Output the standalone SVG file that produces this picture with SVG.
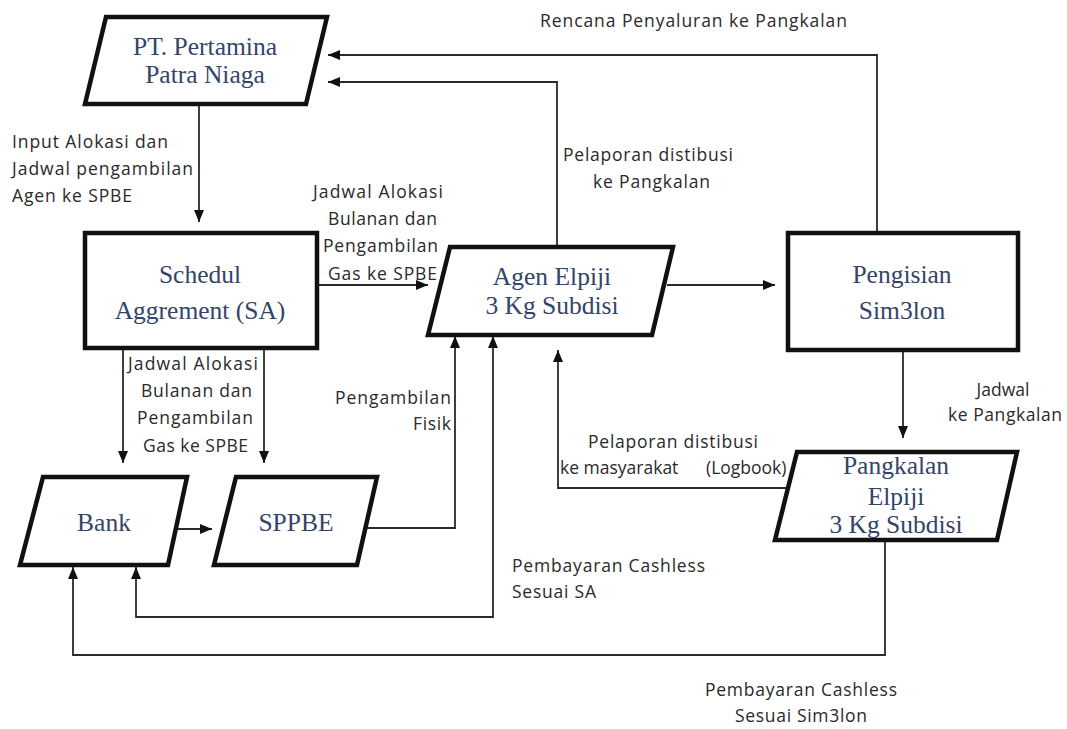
<svg xmlns="http://www.w3.org/2000/svg" width="1067" height="729" viewBox="0 0 1067 729">
<style>
.node{fill:#ffffff;stroke:#111;stroke-width:4.5;stroke-linejoin:miter}
.nt{font-family:"Liberation Serif","Times New Roman",serif;font-size:25.5px;fill:#33446b;text-anchor:middle}
.lb{font-family:"Open Sans",Lato,"Liberation Sans",sans-serif;font-size:17.5px;fill:#2a2a2a}
.c{fill:none;stroke:#2a2a2a;stroke-width:1.8}
</style>
<defs>
<marker id="ah" viewBox="0 0 12 10" refX="12" refY="5" markerWidth="12" markerHeight="10" markerUnits="userSpaceOnUse" orient="auto-start-reverse">
<path d="M0,0 L12,5 L0,10 Z" fill="#111"/>
</marker>
</defs>
<rect width="1067" height="729" fill="#ffffff"/>

<g id="connectors">
<path class="c" d="M199,104 V222" marker-end="url(#ah)"/>
<path class="c" d="M317,285 H428" marker-end="url(#ah)"/>
<path class="c" d="M667,285 H775" marker-end="url(#ah)"/>
<path class="c" d="M877,233 V55 H328" marker-end="url(#ah)"/>
<path class="c" d="M557,247 V82 H328" marker-end="url(#ah)"/>
<path class="c" d="M903,350 V438" marker-end="url(#ah)"/>
<path class="c" d="M788,488 H558 V350" marker-end="url(#ah)"/>
<path class="c" d="M123,348 V463" marker-end="url(#ah)"/>
<path class="c" d="M264,348 V463" marker-end="url(#ah)"/>
<path class="c" d="M176,529 H212" marker-end="url(#ah)"/>
<path class="c" d="M366,528 H455 V336" marker-end="url(#ah)"/>
<path class="c" d="M493,336 V617 H136 V567" marker-start="url(#ah)" marker-end="url(#ah)"/>
<path class="c" d="M885,540 V655 H73 V567" marker-end="url(#ah)"/>
</g>

<g id="labels">
<text class="lb" x="12" y="148" textLength="156" lengthAdjust="spacing">Input Alokasi dan</text>
<text class="lb" x="12" y="175" textLength="181" lengthAdjust="spacing">Jadwal pengambilan</text>
<text class="lb" x="12" y="202" textLength="120" lengthAdjust="spacing">Agen ke SPBE</text>

<text class="lb" x="540" y="27" textLength="307" lengthAdjust="spacing">Rencana Penyaluran ke Pangkalan</text>

<text class="lb" x="563" y="161" textLength="170" lengthAdjust="spacing">Pelaporan distibusi</text>
<text class="lb" x="593" y="188" textLength="117" lengthAdjust="spacing">ke Pangkalan</text>

<text class="lb" x="313" y="198" textLength="130" lengthAdjust="spacing">Jadwal Alokasi</text>
<text class="lb" x="328" y="225" textLength="109" lengthAdjust="spacing">Bulanan dan</text>
<text class="lb" x="323" y="252" textLength="115" lengthAdjust="spacing">Pengambilan</text>
<text class="lb" x="328" y="280" textLength="109" lengthAdjust="spacing">Gas ke SPBE</text>

<text class="lb" x="128" y="370" textLength="130" lengthAdjust="spacing">Jadwal Alokasi</text>
<text class="lb" x="141" y="397" textLength="111" lengthAdjust="spacing">Bulanan dan</text>
<text class="lb" x="137" y="424" textLength="116" lengthAdjust="spacing">Pengambilan</text>
<text class="lb" x="143" y="452" textLength="105" lengthAdjust="spacing">Gas ke SPBE</text>

<text class="lb" x="335" y="404" textLength="116" lengthAdjust="spacing">Pengambilan</text>
<text class="lb" x="413" y="430" textLength="38" lengthAdjust="spacing">Fisik</text>

<text class="lb" x="588" y="448" textLength="170" lengthAdjust="spacing">Pelaporan distibusi</text>
<text class="lb" y="474"><tspan x="560">ke masyarakat</tspan><tspan x="706">(Logbook)</tspan></text>

<text class="lb" x="1003" y="396" text-anchor="middle">Jadwal</text>
<text class="lb" x="948" y="421" textLength="114" lengthAdjust="spacing">ke Pangkalan</text>

<text class="lb" x="512" y="572" textLength="193" lengthAdjust="spacing">Pembayaran Cashless</text>
<text class="lb" x="512" y="598" textLength="84" lengthAdjust="spacing">Sesuai SA</text>

<text class="lb" x="705" y="696" textLength="192" lengthAdjust="spacing">Pembayaran Cashless</text>
<text class="lb" x="735" y="722" textLength="132" lengthAdjust="spacing">Sesuai Sim3lon</text>
</g>

<g id="pt">
<polygon class="node" points="106,17 327,17 306,104 85,104"/>
<text class="nt" x="205" y="55">PT. Pertamina</text>
<text class="nt" x="205" y="83">Patra Niaga</text>
</g>

<g id="sa">
<rect class="node" x="85" y="233" width="232" height="115"/>
<text class="nt" x="200" y="283">Schedul</text>
<text class="nt" x="200" y="319">Aggrement (SA)</text>
</g>

<g id="agen">
<polygon class="node" points="450,247 673,247 652,335 428,335"/>
<text class="nt" x="552" y="285">Agen Elpiji</text>
<text class="nt" x="552" y="314">3 Kg Subdisi</text>
</g>

<g id="pengisian">
<rect class="node" x="788" y="233" width="230" height="117"/>
<text class="nt" x="902" y="283">Pengisian</text>
<text class="nt" x="902" y="319">Sim3lon</text>
</g>

<g id="pangkalan">
<polygon class="node" points="797,452 1017,452 997,540 775,540"/>
<text class="nt" x="896" y="474">Pangkalan</text>
<text class="nt" x="896" y="505">Elpiji</text>
<text class="nt" x="896" y="533">3 Kg Subdisi</text>
</g>

<g id="bank">
<polygon class="node" points="43,477 187,477 168,565 20,565"/>
<text class="nt" x="104" y="531">Bank</text>
</g>

<g id="sppbe">
<polygon class="node" points="236,477 377,477 357,565 214,565"/>
<text class="nt" x="296" y="531">SPPBE</text>
</g>
</svg>
